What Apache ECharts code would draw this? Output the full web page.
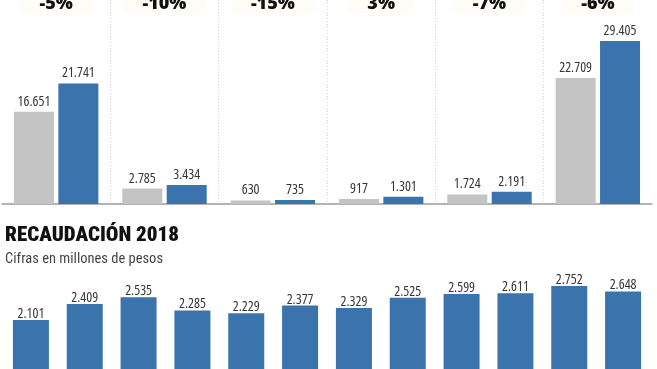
<!DOCTYPE html>
<html>
<head>
<meta charset="utf-8">
<script src="https://cdn.jsdelivr.net/npm/echarts@6/dist/echarts.min.js"></script>
<style>
  html, body { margin: 0; padding: 0; background: #ffffff; }
  #chart { width: 657px; height: 369px; }
</style>
</head>
<body>
<div id="chart"></div>
<script>
// ---- data ----
var topCategories = ['Grupo 1', 'Grupo 2', 'Grupo 3', 'Grupo 4', 'Grupo 5', 'Grupo 6'];
var topChange = ['-5%', '-10%', '-15%', '3%', '-7%', '-6%'];
var topGray = [16651, 2785, 630, 917, 1724, 22709];
var topBlue = [21741, 3434, 735, 1301, 2191, 29405];

var months = ['Ene', 'Feb', 'Mar', 'Abr', 'May', 'Jun', 'Jul', 'Ago', 'Sep', 'Oct', 'Nov', 'Dic'];
var recaudacion2018 = [2101, 2409, 2535, 2285, 2229, 2377, 2329, 2525, 2599, 2611, 2752, 2648];

var titleText = 'RECAUDACIÓN 2018';
var subtitleText = 'Cifras en millones de pesos';

function fmt(v) {
  return String(v).replace(/\B(?=(\d{3})+(?!\d))/g, '.');
}

var GRAY = '#c4c4c4';
var BLUE = '#3b74ad';
var COND = '"Open Sans", sans-serif';
var RCOND = 'Roboto, sans-serif';

var chart = echarts.init(document.getElementById('chart'), null, { renderer: 'canvas' });

function valueLabel(size, dist) {
  return {
    show: true,
    position: 'top',
    distance: dist,
    fontFamily: COND,
    fontStyle: 'condensed',
    fontWeight: 'normal',
    fontSize: size,
    color: '#363636',
    formatter: function (p) { return fmt(p.value); }
  };
}

var option = {
  backgroundColor: '#ffffff',
  animation: false,
  title: [
    {
      text: titleText,
      left: 0,
      top: 220,
      textStyle: {
        fontFamily: RCOND,
        fontStyle: 'condensed',
        fontWeight: 900,
        fontSize: 21,
        color: '#111111'
      }
    },
    {
      text: subtitleText,
      left: 0,
      top: 247,
      textStyle: {
        fontFamily: RCOND,
        fontStyle: 'condensed',
        fontWeight: 'normal',
        fontSize: 14.5,
        color: '#444444'
      }
    }
  ],
  grid: [
    { left: 2, width: 650, top: 0, height: 204, outerBoundsMode: 'none', containLabel: false },
    { left: 4, width: 646, top: 273, height: 157, outerBoundsMode: 'none', containLabel: false }
  ],
  xAxis: [
    {
      type: 'category',
      gridIndex: 0,
      data: topCategories,
      position: 'bottom',
      axisLine: { show: true, lineStyle: { color: '#9a9a9a', width: 1.5 } },
      axisTick: { show: false },
      axisLabel: { show: false },
      splitLine: {
        show: true,
        showMinLine: false,
        showMaxLine: false,
        lineStyle: { color: '#d4d4d4', type: [1, 2], width: 1 }
      }
    },
    {
      type: 'category',
      gridIndex: 0,
      data: topChange,
      position: 'top',
      axisLine: { show: false },
      axisTick: { show: false },
      splitLine: { show: false },
      axisLabel: {
        show: true,
        inside: true,
        margin: 13,
        verticalAlign: 'bottom',
        fontFamily: '"Open Sans", "Noto Sans", sans-serif',
        fontWeight: 800,
        fontSize: 18,
        color: '#111111',
        lineHeight: 18,
        backgroundColor: '#fdfcf5',
        padding: [0, 19, 0, 19]
      }
    },
    {
      type: 'category',
      gridIndex: 1,
      data: months,
      axisLine: { show: false },
      axisTick: { show: false },
      axisLabel: { show: false },
      splitLine: { show: false }
    }
  ],
  yAxis: [
    {
      type: 'value',
      gridIndex: 0,
      min: 0,
      max: 36800,
      show: false,
      splitLine: { show: false }
    },
    {
      type: 'value',
      gridIndex: 1,
      min: 0,
      max: 3000,
      show: false,
      splitLine: { show: false }
    }
  ],
  series: [
    {
      type: 'bar',
      xAxisIndex: 0,
      yAxisIndex: 0,
      data: topGray,
      barWidth: 40,
      barGap: '11%',
      itemStyle: { color: GRAY },
      label: valueLabel(14, 3)
    },
    {
      type: 'bar',
      xAxisIndex: 0,
      yAxisIndex: 0,
      data: topBlue,
      barWidth: 40,
      barGap: '11%',
      itemStyle: { color: BLUE },
      label: valueLabel(14, 3)
    },
    {
      type: 'bar',
      xAxisIndex: 2,
      yAxisIndex: 1,
      data: recaudacion2018,
      barWidth: 36,
      itemStyle: { color: BLUE },
      label: valueLabel(14, -1)
    }
  ]
};

chart.setOption(option);
</script>
</body>
</html>
